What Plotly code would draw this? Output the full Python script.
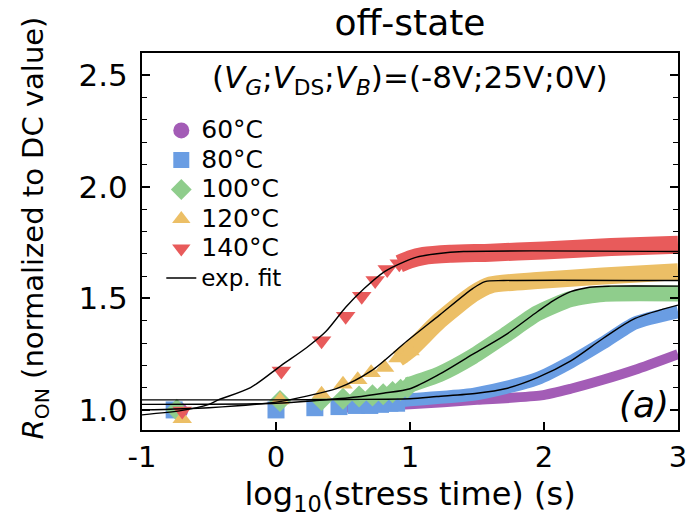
import plotly.graph_objects as go

# ---------------- data ----------------
temps = ["60°C", "80°C", "100°C", "120°C", "140°C"]
colors = ["#a35cb6", "#6a9de3", "#8fcd8c", "#ecbf66", "#e85b5b"]
symbols = ["circle", "square", "diamond", "triangle-up", "triangle-down"]

# early (sparse) measured points: x = log10(stress time)
m60_x = [-0.72]
m60_y = [0.995]
m80_x = [-0.76, 0.00, 0.29, 0.47, 0.60, 0.70, 0.78, 0.85, 0.90]
m80_y = [1.00, 1.00, 1.01, 1.015, 1.02, 1.02, 1.025, 1.03, 1.03]
m100_x = [-0.74, 0.03, 0.34, 0.50, 0.62, 0.72, 0.80, 0.87, 0.93, 0.98]
m100_y = [1.00, 1.04, 1.045, 1.05, 1.06, 1.065, 1.07, 1.08, 1.09, 1.10]
m120_x = [-0.70, 0.03, 0.34, 0.50, 0.61, 0.71, 0.81, 0.91, 1.00]
m120_y = [0.96, 1.045, 1.07, 1.115, 1.135, 1.167, 1.19, 1.233, 1.264]
m140_x = [-0.70, 0.04, 0.34, 0.52, 0.64, 0.74, 0.83, 0.92]
m140_y = [0.995, 1.175, 1.31, 1.42, 1.51, 1.58, 1.63, 1.655]

# dense measured bands
b60_x = [0.50, 1.00, 1.50, 1.98, 2.20, 2.44, 2.68, 3.00]
b60_y = [1.01, 1.025, 1.045, 1.065, 1.095, 1.135, 1.18, 1.25]
b80_x = [0.55, 0.80, 1.00, 1.47, 1.71, 1.95, 2.20, 2.44, 2.68, 3.00]
b80_y = [1.02, 1.03, 1.045, 1.07, 1.10, 1.14, 1.215, 1.30, 1.39, 1.44]
b100_x = [0.98, 1.22, 1.47, 1.71, 1.95, 2.20, 2.44, 3.00]
b100_y = [1.11, 1.16, 1.24, 1.335, 1.433, 1.497, 1.52, 1.522]
b120_x = [0.91, 1.00, 1.22, 1.47, 1.60, 1.95, 2.44, 3.00]
b120_y = [1.23, 1.27, 1.40, 1.52, 1.56, 1.58, 1.60, 1.62]
b140_x = [0.92, 1.00, 1.10, 1.30, 1.60, 2.00, 2.50, 3.00]
b140_y = [1.655, 1.675, 1.69, 1.70, 1.705, 1.715, 1.73, 1.74]

# exponential fits
f80_x = [-1.0, 0.0, 0.5, 1.0, 1.2, 1.5, 1.71, 1.95, 2.2, 2.44, 2.68, 3.0]
f80_y = [1.045, 1.045, 1.047, 1.05, 1.06, 1.075, 1.095, 1.145, 1.22, 1.32, 1.41, 1.47]
f100_x = [-1.0, 0.0, 0.3, 0.6, 0.8, 1.0, 1.22, 1.47, 1.71, 1.95, 2.07, 2.2, 2.34, 2.5, 3.0]
f100_y = [1.025, 1.03, 1.042, 1.058, 1.075, 1.095, 1.16, 1.25, 1.335, 1.44, 1.49, 1.53, 1.55, 1.555, 1.555]
f120_x = [-1.0, -0.5, 0.0, 0.1, 0.47, 0.71, 0.98, 1.22, 1.47, 1.56, 1.7, 3.0]
f120_y = [1.0, 1.01, 1.035, 1.045, 1.10, 1.175, 1.31, 1.425, 1.545, 1.575, 1.58, 1.58]
f140_x = [-1.0, -0.7, -0.5, -0.43, -0.19, 0.04, 0.23, 0.37, 0.52, 0.66, 0.81, 0.96, 1.05, 1.2, 1.4, 3.0]
f140_y = [0.978, 0.998, 1.025, 1.045, 1.10, 1.20, 1.28, 1.35, 1.46, 1.545, 1.62, 1.665, 1.685, 1.70, 1.71, 1.71]

x_ticks = [-1, 0, 1, 2, 3]
y_ticks = [1.0, 1.5, 2.0, 2.5]

markers = [(m60_x, m60_y), (m80_x, m80_y), (m100_x, m100_y), (m120_x, m120_y), (m140_x, m140_y)]
bands = [(b60_x, b60_y), (b80_x, b80_y), (b100_x, b100_y), (b120_x, b120_y), (b140_x, b140_y)]
band_w = [10, 13, 16, 17, 18]
fits = [(f80_x, f80_y), (f100_x, f100_y), (f120_x, f120_y), (f140_x, f140_y)]

FONT = "DejaVu Sans"
fig = go.Figure()

for i in range(5):
    bx, by = bands[i]
    fig.add_trace(go.Scatter(x=bx, y=by, mode="lines", showlegend=False,
                             line=dict(color=colors[i], width=band_w[i], shape="spline", smoothing=0.6),
                             hoverinfo="skip"))
    mx, my = markers[i]
    fig.add_trace(go.Scatter(x=mx, y=my, mode="markers", name=f'<span style="font-size:25px">{temps[i]}</span>',
                             marker=dict(symbol=symbols[i], color=colors[i], size=17, line=dict(width=0))))

for j, (fx, fy) in enumerate(fits):
    fig.add_trace(go.Scatter(x=fx, y=fy, mode="lines",
                             name='<span style="font-size:23px">exp. fit</span>',
                             showlegend=(j == 0),
                             line=dict(color="black", width=1.4, shape="spline", smoothing=0.8)))

fig.update_layout(
    width=698, height=517,
    margin=dict(l=142, r=11, t=53, b=84),
    paper_bgcolor="white", plot_bgcolor="white",
    font=dict(family=FONT, color="black", size=30),
    title=dict(text="off-state", x=0.5, xref="paper", xanchor="center",
               y=1 - 22 / 517, yref="container", yanchor="middle",
               font=dict(family=FONT, size=36, color="black")),
    showlegend=True,
    legend=dict(x=0.036, y=0.847, xanchor="left", yanchor="top",
                bgcolor="rgba(0,0,0,0)", borderwidth=0,
                font=dict(family=FONT, size=20.4, color="black"),
                itemsizing="trace", tracegroupgap=0),
    xaxis=dict(range=[-1, 3], tickvals=x_ticks, ticktext=["-1", "0", "1", "2", "3"],
               ticks="inside", ticklen=8, tickwidth=1.5, tickcolor="black",
               showline=True, linecolor="black", linewidth=2, mirror=True,
               showgrid=False, zeroline=False,
               tickfont=dict(family=FONT, size=29, color="black"),
               title=dict(text="log<sub>10</sub>(stress time) (s)", standoff=10,
                          font=dict(family=FONT, size=32, color="black"))),
    yaxis=dict(range=[0.91, 2.6], tickvals=y_ticks, ticktext=["1.0", "1.5", "2.0", "2.5"],
               ticks="inside", ticklen=8, tickwidth=1.5, tickcolor="black",
               minor=dict(dtick=0.1, tick0=0, ticks="inside", ticklen=5, tickwidth=1, tickcolor="black"),
               showline=True, linecolor="black", linewidth=2, mirror="ticks",
               showgrid=False, zeroline=False,
               ticklabelstandoff=6,
               tickfont=dict(family=FONT, size=31, color="black")),
)

fig.add_annotation(text="<i>R</i><sub>ON</sub> (normalized to DC value)", textangle=-90,
                   xref="paper", yref="paper", x=(33 - 142) / 545, y=(433 - 229) / 380,
                   xanchor="center", yanchor="middle", showarrow=False,
                   font=dict(family=FONT, size=29, color="black"))
fig.add_annotation(text="(<i>V</i><sub><i>G</i></sub>;<i>V</i><sub>DS</sub>;<i>V</i><sub><i>B</i></sub>)=(-8V;25V;0V)",
                   xref="paper", yref="paper", x=0.5, y=(433 - 80) / 380,
                   xanchor="center", yanchor="middle", showarrow=False,
                   font=dict(family=FONT, size=31, color="black"))
fig.add_annotation(text="<i>(a)</i>", xref="paper", yref="paper", x=(680 - 142) / 545, y=(433 - 407) / 380,
                   xanchor="right", yanchor="middle", showarrow=False,
                   font=dict(family=FONT, size=36, color="black"))

fig.write_html("out.html")
